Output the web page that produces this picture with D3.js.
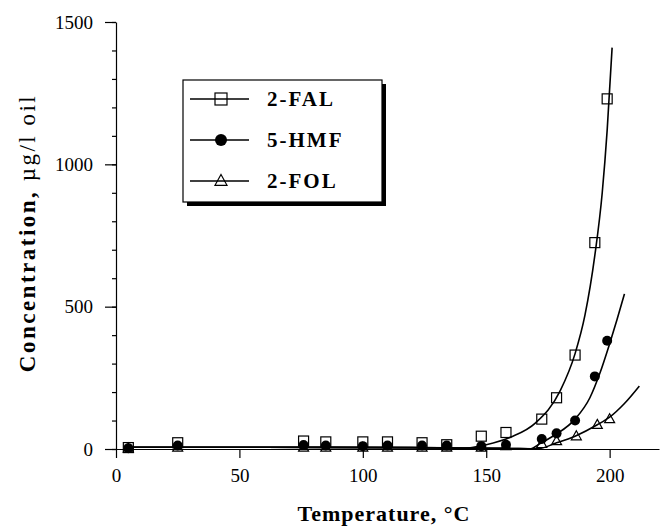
<!DOCTYPE html>
<html lang="en">
<head>
    <meta charset="UTF-8">
    <title>Furanic compounds vs temperature</title>
    <script src="https://d3js.org/d3.v7.min.js"></script>
    <style>
        body{
            margin: 0;
            background: white;
        }
        text{
            font-family: "Liberation Serif", "Times New Roman", serif;
            fill: black;
        }
        .axis path, .axis line{
            stroke: black;
            stroke-width: 1.2px;
        }
        .axis text{
            font-size: 19px;
        }
    </style>
</head>
<body>
    <svg id="main" width="660" height="529"></svg>
    <script>
        // measured points, temperature in °C, concentration in µg/l oil
        const temps    = [5, 25, 76, 85, 100, 110, 124, 134, 148, 158, 172.5, 178.5, 186, 194, 199]
        const fal      = [5, 22, 28, 25, 25, 25, 22, 15, 45, 58, 105, 180, 330, 725, 1230]
        const hmf      = [3, 12, 14, 12, 10, 12, 12, 12, 10, 15, 35, 55, 100, 255, 380]
        const fol      = [2, 5, 5, 5, 5, 5, 5, 5, 5, 10, 18, 28, 45, 85, 105]
        const folTemps = [5, 25, 76, 85, 100, 110, 124, 134, 148, 158, 172.5, 178.5, 186.5, 195, 200]

        // fitted curves
        const falCurveT = [5, 60, 120, 140, 150, 160, 170, 180, 186, 190, 194, 197, 199, 201]
        const falCurveC = [6, 6, 5, 2, 15, 42, 92, 205, 335, 470, 680, 900, 1120, 1410]
        const hmfCurveT = [5, 60, 120, 160, 168, 172, 178, 186, 192, 196, 200, 203, 206]
        const hmfCurveC = [6, 6, 5, 2, 1, 20, 50, 105, 180, 265, 370, 455, 545]
        const folCurveT = [5, 60, 120, 160, 171, 178, 186, 195, 200, 206, 212]
        const folCurveC = [6, 6, 5, 2, 1, 20, 45, 85, 112, 160, 221]

        const xTicks = [0, 50, 100, 150, 200]
        const yTicks = [0, 500, 1000, 1500]
        const yMinor = d3.range(0, 1501, 100)
        const legendNames = ["2-FAL", "5-HMF", "2-FOL"]

        const svg = d3.select("#main")
        const x = d3.scaleLinear().domain([0, 220]).range([116, 659])
        const y = d3.scaleLinear().domain([0, 1500]).range([449, 22])

        // axes
        svg.append("g")
            .attr("class", "axis")
            .attr("transform", "translate(0," + y(0) + ")")
            .call(d3.axisBottom(x).tickValues(xTicks).tickSize(9).tickSizeOuter(0).tickPadding(11).tickFormat(d3.format("d")))
        svg.append("g")
            .attr("class", "axis")
            .attr("transform", "translate(" + x(0) + ",0)")
            .call(d3.axisLeft(y).tickValues(yMinor).tickSize(4).tickSizeOuter(0).tickFormat(""))
        svg.append("g")
            .attr("class", "axis")
            .attr("transform", "translate(" + x(0) + ",0)")
            .call(d3.axisLeft(y).tickValues(yTicks).tickSize(11).tickSizeOuter(0).tickPadding(12).tickFormat(d3.format("d")))
            .select(".domain").remove()
        svg.selectAll(".axis text").style("font-family", '"Liberation Serif", serif')

        // axis titles
        svg.append("text")
            .attr("x", 384).attr("y", 521)
            .attr("text-anchor", "middle")
            .style("font-size", "22px").style("font-weight", "bold")
            .style("letter-spacing", "1px")
            .text("Temperature, °C")
        const yt = svg.append("text")
            .style("font-size", "23px")
            .style("letter-spacing", "2.5px")
        yt.append("tspan").style("font-weight", "bold").text("Concentration, ")
        yt.append("tspan").text("µg/l oil")
        const ytLen = yt.node().getComputedTextLength()
        yt.attr("transform", "translate(35," + (233 + ytLen / 2) + ") rotate(-90)")

        // curves
        const line = d3.line()
            .x(d => x(d[0]))
            .y(d => y(d[1]))
            .curve(d3.curveMonotoneX)
        const curves = [
            d3.zip(falCurveT, falCurveC),
            d3.zip(hmfCurveT, hmfCurveC),
            d3.zip(folCurveT, folCurveC)
        ]
        svg.append("g").selectAll("path")
            .data(curves)
            .join("path")
            .attr("d", line)
            .attr("fill", "none")
            .attr("stroke", "black")
            .attr("stroke-width", 1.6)

        // markers
        function drawMarker(g, kind, s) {
            if (kind === 0) {
                g.append("rect")
                    .attr("x", -s / 2).attr("y", -s / 2)
                    .attr("width", s).attr("height", s)
                    .attr("fill", "none").attr("stroke", "black").attr("stroke-width", 1.2)
            } else if (kind === 1) {
                g.append("circle")
                    .attr("r", s / 2)
                    .attr("fill", "black")
            } else {
                const h = s * 0.9
                g.append("path")
                    .attr("d", "M0," + (-h * 0.6) + "L" + (s / 2) + "," + (h * 0.4) + "L" + (-s / 2) + "," + (h * 0.4) + "Z")
                    .attr("fill", "none").attr("stroke", "black").attr("stroke-width", 1.2)
            }
        }
        const series = [
            d3.zip(temps, fal),
            d3.zip(temps, hmf),
            d3.zip(folTemps, fol)
        ]
        series.forEach((pts, k) => {
            svg.append("g").selectAll("g")
                .data(pts)
                .join("g")
                .attr("transform", d => "translate(" + x(d[0]) + "," + y(d[1]) + ")")
                .each(function() { drawMarker(d3.select(this), k, 10) })
        })

        // legend
        const legend = svg.append("g").attr("transform", "translate(183,80)")
        legend.append("rect")
            .attr("x", 4).attr("y", 4).attr("width", 199).attr("height", 122)
            .attr("fill", "black")
        legend.append("rect")
            .attr("x", 0).attr("y", 0).attr("width", 199).attr("height", 122)
            .attr("fill", "white").attr("stroke", "black").attr("stroke-width", 1.2)
        legendNames.forEach((name, i) => {
            const ly = 19 + i * 41
            legend.append("line")
                .attr("x1", 7).attr("x2", 66).attr("y1", ly).attr("y2", ly)
                .attr("stroke", "black").attr("stroke-width", 1.3)
            const m = legend.append("g").attr("transform", "translate(38," + ly + ")")
            drawMarker(m, i, 12)
            legend.append("text")
                .attr("x", 84).attr("y", ly + 7)
                .style("font-size", "21px").style("font-weight", "bold")
                .style("letter-spacing", "2px")
                .text(name)
        })
    </script>
</body>
</html>
